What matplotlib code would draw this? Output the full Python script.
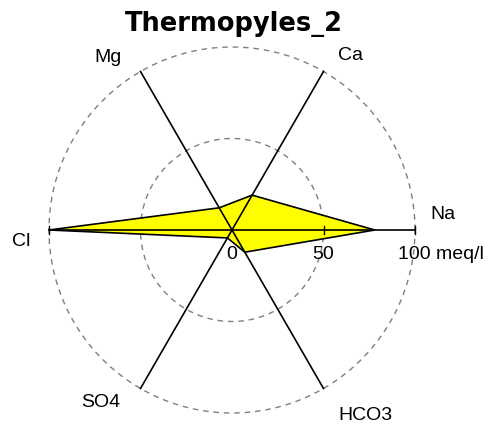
import numpy as np
import matplotlib
matplotlib.use("Agg")
import matplotlib.pyplot as plt

# Data (meq/l)
ions = ["Na", "Ca", "Mg", "Cl", "SO4", "HCO3"]
angles_deg = [0, 60, 120, 180, 240, 300]
values = [78, 22, 14, 100, 5, 14]
ring_values = [50, 100]
tick_values = [0, 50, 100]
tick_labels = ["0", "50", "100 meq/l"]
title = "Thermopyles_2"

W, H = 492, 429
cx_px, cy_px = 232, 230   # center in pixels from top-left
scale = 1.83             # pixels per meq/l

fig = plt.figure(figsize=(W / 100, H / 100), dpi=100)
ax = fig.add_axes([0, 0, 1, 1])
ax.set_xlim(-cx_px / scale, (W - cx_px) / scale)
ax.set_ylim(-(H - cy_px) / scale, cy_px / scale)
ax.axis("off")

font = "Liberation Sans"
fs = 14

# dashed rings
t = np.linspace(0, 2 * np.pi, 400)
for r in ring_values:
    ax.plot(r * np.cos(t), r * np.sin(t), color="#7f7f7f", lw=1.0,
            dashes=(4, 3.5), zorder=1)

# polygon
ang = np.deg2rad(angles_deg)
xs = np.array(values) * np.cos(ang)
ys = np.array(values) * np.sin(ang)
ax.fill(xs, ys, facecolor="#ffff00", edgecolor="black", lw=1.2, zorder=2)

# axes lines
for a in angles_deg[:3]:
    ra = np.deg2rad(a)
    ax.plot([-100 * np.cos(ra), 100 * np.cos(ra)],
            [-100 * np.sin(ra), 100 * np.sin(ra)], color="black", lw=1.2, zorder=3)

# ticks on Na axis
tl = 2.2
for v in tick_values[1:]:
    ax.plot([v, v], [-tl, tl], color="black", lw=1.0, zorder=3)
ax.plot([-100, -100], [-tl, tl], color="black", lw=1.0, zorder=3)

# tick labels
ax.text(0, -8.5, tick_labels[0], ha="center", va="top", fontsize=fs, family=font)
ax.text(50, -8.5, tick_labels[1], ha="center", va="top", fontsize=fs, family=font)
ax.text(90.5, -8.5, tick_labels[2], ha="left", va="top", fontsize=fs, family=font)

# ion labels (label placement offsets)
label_pos = {
    "Na": (115.5, 8.5),
    "Ca": (64.5, 95.5),
    "Mg": (-67.5, 94.5),
    "Cl": (-115, -6.5),
    "SO4": (-71.5, -94.5),
    "HCO3": (73, -101.5),
}
for name in ions:
    x, y = label_pos[name]
    ax.text(x, y, name, ha="center", va="center", fontsize=fs, family=font)

ax.text(1, 112.3, title, ha="center", va="center", fontsize=18.5,
        fontweight="bold", family="DejaVu Sans")

fig.savefig("out.png", dpi=100)
